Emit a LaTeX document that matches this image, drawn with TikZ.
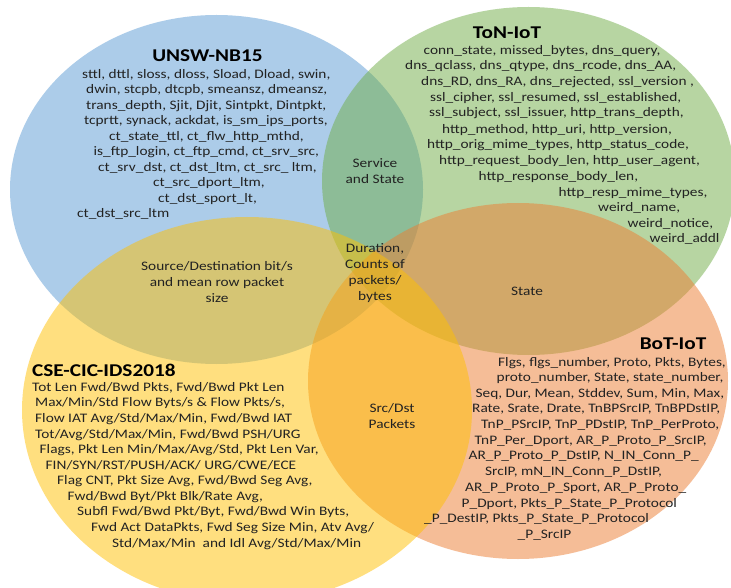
\documentclass[tikz,border=0pt]{standalone}
\usepackage{fontspec}
\setmainfont{Carlito}[FakeStretch=1.18]
\begin{document}
\begin{tikzpicture}[x=1pt,y=-1pt]
\definecolor{setblue}{HTML}{5B9BD5}
\definecolor{setgreen}{HTML}{70AD47}
\definecolor{setgold}{HTML}{FFC000}
\definecolor{setorange}{HTML}{ED7D31}
\definecolor{ink}{HTML}{222222}
\tikzset{
  setblob/.style={fill=#1, fill opacity=0.5, draw=none},
  featline/.style={anchor=mid west, inner sep=0pt, text=ink, font=\fontsize{13}{15.5}\selectfont},
  settitle/.style={inner sep=0pt, text=black, font=\bfseries\fontsize{18}{20}\selectfont},
  overlap/.style={align=center, inner sep=0pt, text=ink, font=\fontsize{13}{16}\selectfont}
}
\useasboundingbox (0,0) rectangle (731,588);
\fill[white] (0,0) rectangle (731,588);

% the four dataset sets
\begin{scope}
  \clip (0,0) rectangle (731,588);
  \fill[setblob=setblue]   (216.5,189.5) ellipse [x radius=206.5pt, y radius=174.5pt];
  \fill[setblob=setgreen]  (528.5,181)   ellipse [x radius=206.5pt, y radius=174pt];
  \fill[setblob=setorange] (518,381)     ellipse [x radius=210pt, y radius=178pt];
  \fill[setblob=setgold]   (247,410)     ellipse [x radius=225pt, y radius=193pt];
\end{scope}

% UNSW-NB15
\node[settitle] (u0) at (207.5,56) {UNSW-NB15};
\node[featline] (u1) at (82,76) {sttl, dttl, sloss, dloss, Sload, Dload, swin,};
\node[featline] (u2) at (86,91.5) {dwin, stcpb, dtcpb, smeansz, dmeansz,};
\node[featline] (u3) at (86,107) {trans\_depth, Sjit, Djit, Sintpkt, Dintpkt,};
\node[featline] (u4) at (84,122) {tcprtt, synack, ackdat, is\_sm\_ips\_ports,};
\node[featline] (u5) at (109,138) {ct\_state\_ttl, ct\_flw\_http\_mthd,};
\node[featline] (u6) at (93.5,153.5) {is\_ftp\_login, ct\_ftp\_cmd, ct\_srv\_src,};
\node[featline] (u7) at (98,169) {ct\_srv\_dst, ct\_dst\_ltm, ct\_src\_ ltm,};
\node[featline] (u8) at (153,184.5) {ct\_src\_dport\_ltm,};
\node[featline] (u9) at (158,200) {ct\_dst\_sport\_lt,};
\node[featline] (u10) at (77,215.5) {ct\_dst\_src\_ltm};

% ToN-IoT
\node[settitle] (t0) at (507,33) {ToN-IoT};
\node[featline] (t1) at (423.5,52) {conn\_state, missed\_bytes, dns\_query,};
\node[featline] (t2) at (405,67.5) {dns\_qclass, dns\_qtype, dns\_rcode, dns\_AA,};
\node[featline] (t3) at (421,83) {dns\_RD, dns\_RA, dns\_rejected, ssl\_version ,};
\node[featline] (t4) at (430,99) {ssl\_cipher, ssl\_resumed, ssl\_established,};
\node[featline] (t5) at (429,114.5) {ssl\_subject, ssl\_issuer, http\_trans\_depth,};
\node[featline] (t6) at (442,131) {http\_method, http\_uri, http\_version,};
\node[featline] (t7) at (427,146.5) {http\_orig\_mime\_types, http\_status\_code,};
\node[featline] (t8) at (439,162.5) {http\_request\_body\_len, http\_user\_agent,};
\node[featline] (t9) at (478.5,178) {http\_response\_body\_len,};
\node[featline] (t10) at (558.5,194) {http\_resp\_mime\_types,};
\node[featline] (t11) at (598,209) {weird\_name,};
\node[featline] (t12) at (627.5,225) {weird\_notice,};
\node[featline] (t13) at (649.5,240) {weird\_addl};

% CSE-CIC-IDS2018
\node[settitle, anchor=west] (c0) at (32,370) {CSE-CIC-IDS2018};
\node[featline] (c1) at (32,389) {Tot Len Fwd/Bwd Pkts, Fwd/Bwd Pkt Len};
\node[featline] (c2) at (35,404.5) {Max/Min/Std Flow Byts/s \& Flow Pkts/s,};
\node[featline] (c3) at (35,420) {Flow IAT Avg/Std/Max/Min, Fwd/Bwd IAT};
\node[featline] (c4) at (35,436) {Tot/Avg/Std/Max/Min, Fwd/Bwd PSH/URG};
\node[featline] (c5) at (39.5,451.5) {Flags, Pkt Len Min/Max/Avg/Std, Pkt Len Var,};
\node[featline] (c6) at (45.5,467) {FIN/SYN/RST/PUSH/ACK/ URG/CWE/ECE};
\node[featline] (c7) at (57,482.5) {Flag CNT, Pkt Size Avg, Fwd/Bwd Seg Avg,};
\node[featline] (c8) at (67.5,498) {Fwd/Bwd Byt/Pkt Blk/Rate Avg,};
\node[featline] (c9) at (77,513.5) {Subfl Fwd/Bwd Pkt/Byt, Fwd/Bwd Win Byts,};
\node[featline] (c10) at (91,529) {Fwd Act DataPkts, Fwd Seg Size Min, Atv Avg/};
\node[featline] (c11) at (112,545) {Std/Max/Min\ \ and Idl Avg/Std/Max/Min};

% BoT-IoT
\node[settitle] (b0) at (673,344) {BoT-IoT};
\node[featline] (b1) at (498,364) {Flgs, flgs\_number, Proto, Pkts, Bytes,};
\node[featline] (b2) at (496.5,379.5) {proto\_number, State, state\_number,};
\node[featline] (b3) at (475.5,395) {Seq, Dur, Mean, Stddev, Sum, Min, Max,};
\node[featline] (b4) at (472,410.5) {Rate, Srate, Drate, TnBPSrcIP, TnBPDstIP,};
\node[featline] (b5) at (481,426) {TnP\_PSrcIP, TnP\_PDstIP, TnP\_PerProto,};
\node[featline] (b6) at (474.5,442) {TnP\_Per\_Dport, AR\_P\_Proto\_P\_SrcIP,};
\node[featline] (b7) at (468.5,457.5) {AR\_P\_Proto\_P\_DstIP, N\_IN\_Conn\_P\_};
\node[featline] (b8) at (485,473) {SrcIP, mN\_IN\_Conn\_P\_DstIP,};
\node[featline] (b9) at (465,489) {AR\_P\_Proto\_P\_Sport, AR\_P\_Proto\_};
\node[featline] (b10) at (461.5,505) {P\_Dport, Pkts\_P\_State\_P\_Protocol};
\node[featline] (b11) at (424,520.5) {\_P\_DestIP, Pkts\_P\_State\_P\_Protocol};
\node[featline] (b12) at (517.5,536) {\_P\_SrcIP};

% shared features in the overlaps
\node[overlap] (svc) at (375,171) {Service\\and State};
\node[overlap] (dur) at (375,273) {Duration,\\Counts of\\packets/\\bytes};
\node[overlap] (srcdst) at (217,282.5) {Source/Destination bit/s\\and mean row packet\\size};
\node[overlap] (state) at (527,291) {State};
\node[overlap] (pkts) at (392,416) {Src/Dst\\Packets};
\end{tikzpicture}
\end{document}
